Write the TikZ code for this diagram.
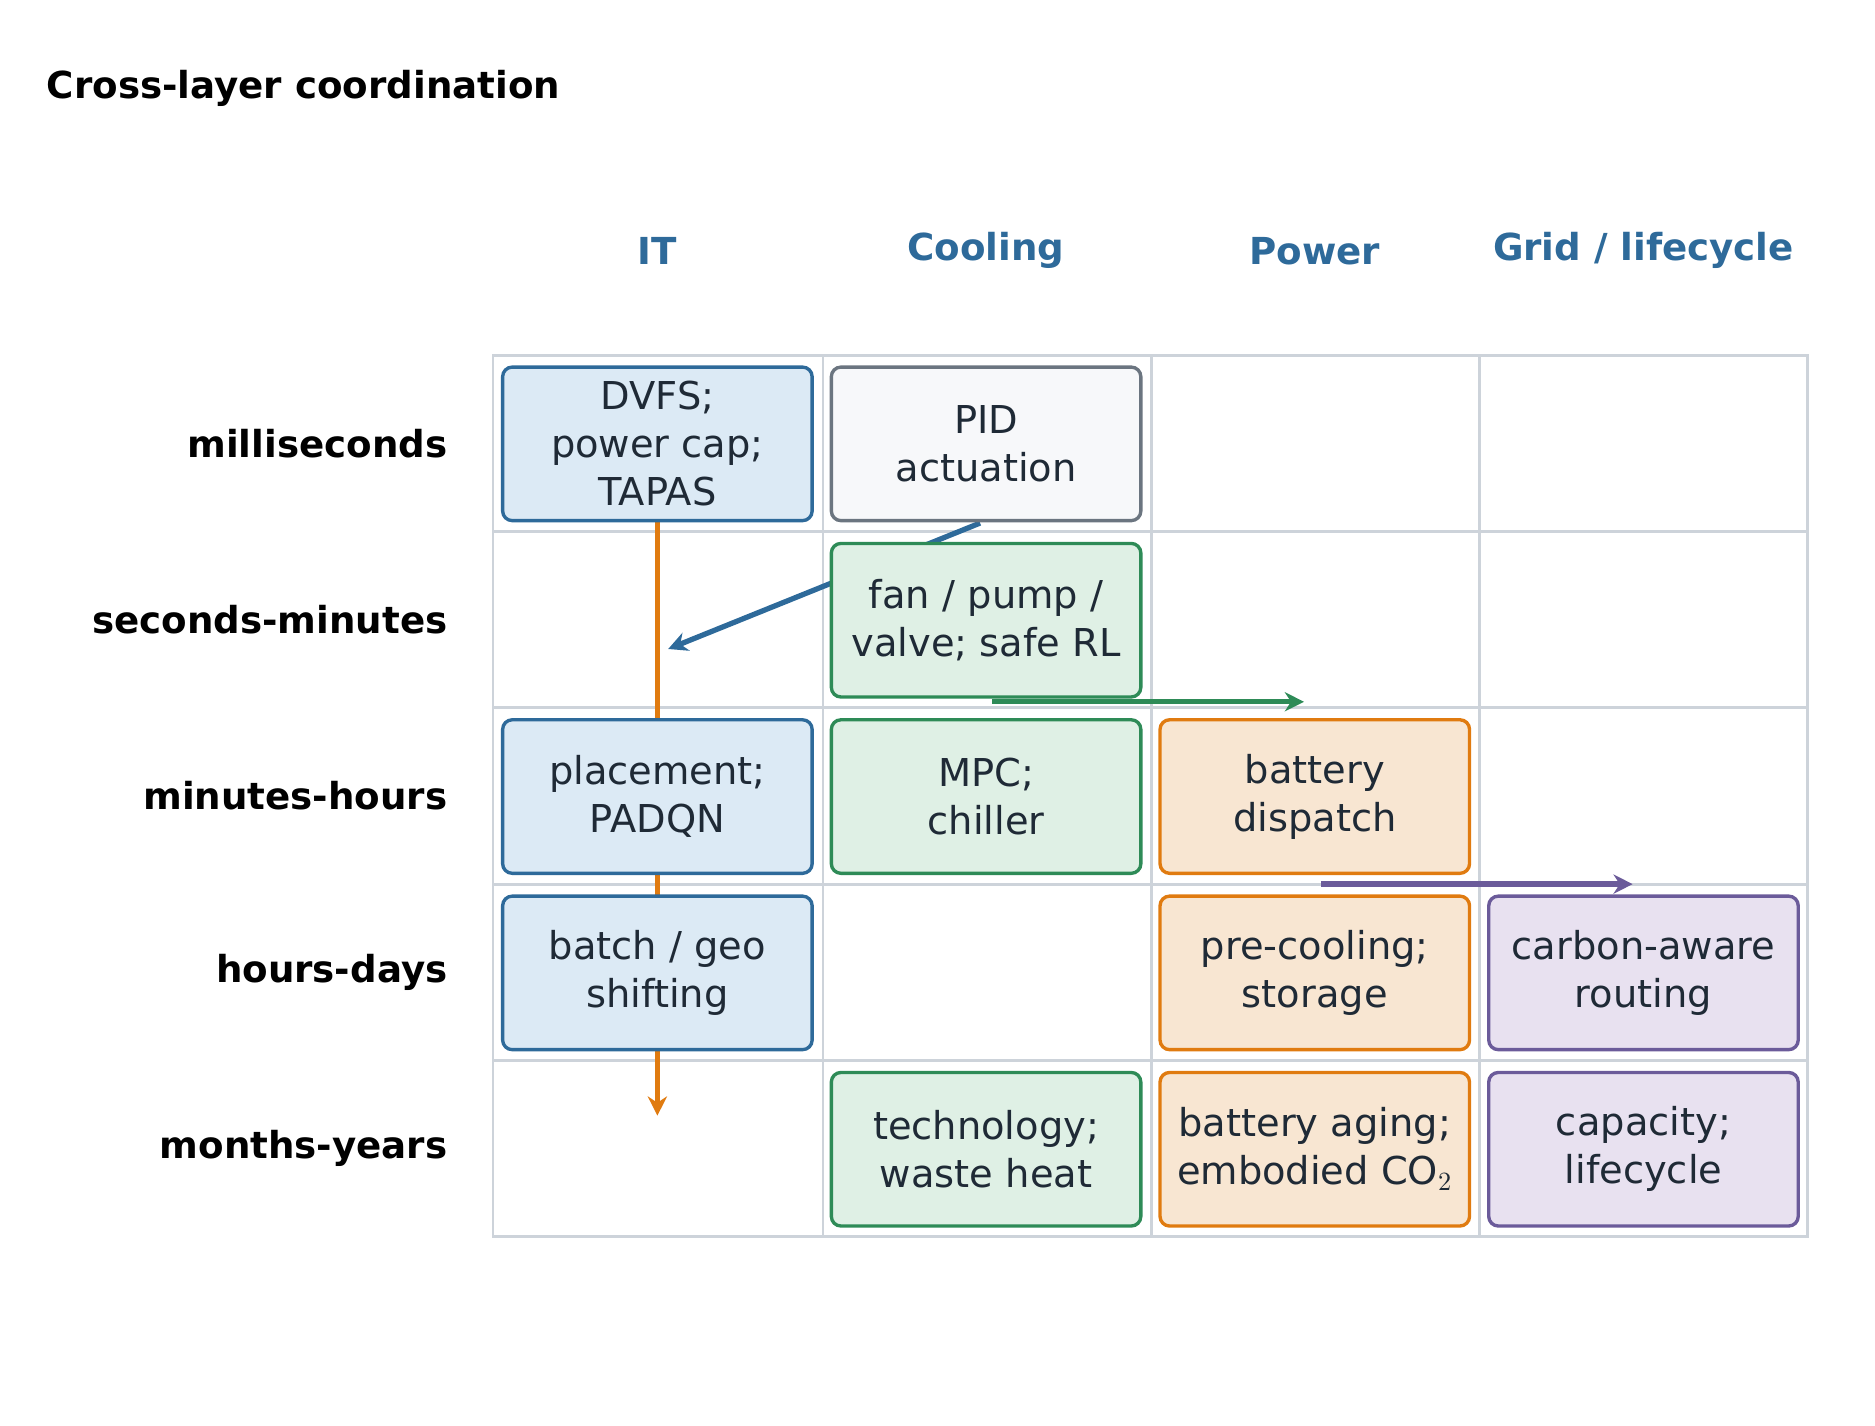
\documentclass[tikz,border=0pt]{standalone}
\usepackage{fontspec}
\setmainfont{DejaVu Sans}
\usetikzlibrary{arrows.meta}
\definecolor{txt}{HTML}{1F2A36}
\definecolor{hdr}{HTML}{2E6A9A}
\definecolor{gridc}{HTML}{CDD3DA}
\definecolor{itF}{HTML}{DCEAF5}\definecolor{itS}{HTML}{2E6A9A}
\definecolor{grF}{HTML}{F7F8FA}\definecolor{grS}{HTML}{6B7580}
\definecolor{coF}{HTML}{DFF0E5}\definecolor{coS}{HTML}{2E8B57}
\definecolor{poF}{HTML}{F8E6D2}\definecolor{poS}{HTML}{E07B10}
\definecolor{glF}{HTML}{E8E1F0}\definecolor{glS}{HTML}{6B5B9A}
\begin{document}
\begin{tikzpicture}[x=0.5pt,y=-0.5pt,
  box/.style={rounded corners=4pt,line width=1.4pt,minimum width=129pt,minimum height=64pt,inner sep=0pt,align=center,text=txt,font=\fontsize{16}{20}\selectfont},
  it/.style={box,fill=itF,draw=itS},
  gr/.style={box,fill=grF,draw=grS},
  co/.style={box,fill=coF,draw=coS},
  po/.style={box,fill=poF,draw=poS},
  gl/.style={box,fill=glF,draw=glS},
  hd/.style={text=hdr,font=\bfseries\fontsize{15.5}{18}\selectfont},
  rl/.style={anchor=east,font=\bfseries\fontsize{15.5}{18}\selectfont},
  arr/.style={line width=2.2pt,-{Stealth[length=8pt,width=8pt]}}]
\useasboundingbox (0,0) rectangle (1563,1188);
\node[anchor=west,font=\bfseries\fontsize{15.5}{18}\selectfont] (title) at (32,74) {Cross-layer coordination};
\node[hd] (h1) at (548,209) {IT};
\node[hd] (h2) at (822,209) {Cooling};
\node[hd] (h3) at (1096,209) {Power};
\node[hd] (h4) at (1370,209) {Grid / lifecycle};
\node[rl] (r1) at (380,369.5) {milliseconds};
\node[rl] (r2) at (380,516.5) {seconds-minutes};
\node[rl] (r3) at (380,663.5) {minutes-hours};
\node[rl] (r4) at (380,810.5) {hours-days};
\node[rl] (r5) at (380,957.5) {months-years};
\draw[gridc,line width=1.2pt] (411,296) rectangle (1507,1031);
\foreach \x in {686,960,1233} \draw[gridc,line width=1.2pt] (\x,296) -- (\x,1031);
\foreach \y in {443,590,737,884} \draw[gridc,line width=1.2pt] (411,\y) -- (1507,\y);
\coordinate (oa) at (548,434); \coordinate (ob) at (548,930);
\draw[arr,draw=poS] (oa) -- (ob);
\coordinate (ba) at (817,436); \coordinate (bb) at (557,541);
\draw[arr,draw=itS] (ba) -- (bb);
\node[it] (b11) at (548,370) {DVFS;\\power cap;\\TAPAS};
\node[gr] (b12) at (822,370) {PID\\actuation};
\node[co] (b22) at (822,517) {fan / pump /\\valve; safe RL};
\node[it] (b31) at (548,664) {placement;\\PADQN};
\node[co] (b32) at (822,664) {MPC;\\chiller};
\node[po] (b33) at (1096,664) {battery\\dispatch};
\node[it] (b41) at (548,811) {batch / geo\\shifting};
\node[po] (b43) at (1096,811) {pre-cooling;\\storage};
\node[gl] (b44) at (1370,811) {carbon-aware\\routing};
\node[co] (b52) at (822,958) {technology;\\waste heat};
\node[po] (b53) at (1096,958) {battery aging;\\embodied CO$_2$};
\node[gl] (b54) at (1370,958) {capacity;\\lifecycle};
\coordinate (ga) at (827,585); \coordinate (gb) at (1087,585);
\draw[arr,draw=coS] (ga) -- (gb);
\coordinate (pa) at (1101,737); \coordinate (pb) at (1361,737);
\draw[arr,draw=glS] (pa) -- (pb);
\end{tikzpicture}
\end{document}
